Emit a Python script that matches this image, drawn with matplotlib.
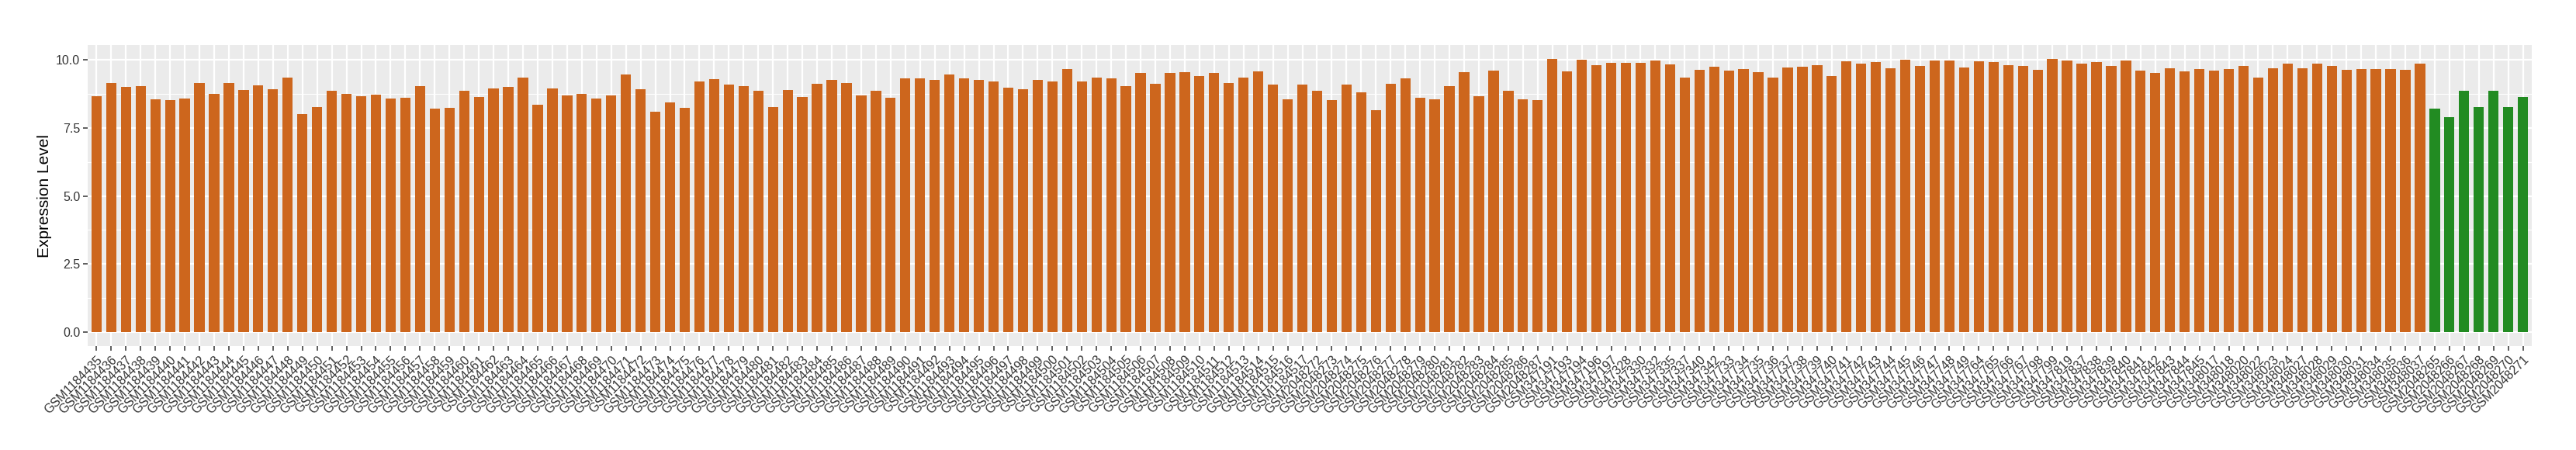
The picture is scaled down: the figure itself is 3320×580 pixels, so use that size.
import matplotlib
matplotlib.use("Agg")
import matplotlib.pyplot as plt
import numpy as np

plt.rcParams["font.family"] = ["Liberation Sans", "DejaVu Sans"]

# sample ids, in plotting order
ids_gsm1184 = [f"GSM{n}" for n in range(1184435, 1184518)]
ids_gsm2048_a = [f"GSM{n}" for n in range(2048272, 2048288)]
ids_gsm347 = [
    "GSM347191", "GSM347193", "GSM347194", "GSM347196", "GSM347197",
    "GSM347328", "GSM347330", "GSM347332", "GSM347335", "GSM347337",
    "GSM347340", "GSM347342", "GSM347733", "GSM347734", "GSM347735",
    "GSM347736", "GSM347737", "GSM347738", "GSM347739", "GSM347740",
    "GSM347741", "GSM347742", "GSM347743", "GSM347744", "GSM347745",
    "GSM347746", "GSM347747", "GSM347748", "GSM347749", "GSM347764",
    "GSM347765", "GSM347766", "GSM347767", "GSM347798", "GSM347799",
    "GSM347819", "GSM347837", "GSM347838", "GSM347839", "GSM347840",
    "GSM347841", "GSM347842", "GSM347843", "GSM347844", "GSM347845",
    "GSM348017", "GSM348018", "GSM348020", "GSM348022", "GSM348023",
    "GSM348024", "GSM348027", "GSM348028", "GSM348029", "GSM348030",
    "GSM348031", "GSM348034", "GSM348035", "GSM348036", "GSM348037",
]
ids_gsm2048_b = [f"GSM{n}" for n in range(2048265, 2048272)]

vals_gsm1184 = [
    8.66, 9.15, 9.01, 9.03, 8.55, 8.52, 8.58, 9.15, 8.75, 9.15, 8.89, 9.06, 8.92, 9.35,
    7.99, 8.27, 8.84, 8.75, 8.66, 8.72, 8.58, 8.61, 9.03, 8.21, 8.24, 8.84, 8.64, 8.95,
    9.01, 9.35, 8.35, 8.95, 8.69, 8.75, 8.58, 8.69, 9.46, 8.92, 8.10, 8.44, 8.24,
    9.20, 9.29, 9.09, 9.03, 8.86, 8.27, 8.89, 8.64, 9.12, 9.26, 9.15, 8.69, 8.84, 8.61,
    9.32, 9.32, 9.26, 9.46, 9.32, 9.26, 9.20, 8.98, 8.92, 9.26, 9.20, 9.66, 9.20, 9.35,
    9.32, 9.03, 9.52, 9.12, 9.52, 9.55, 9.40, 9.52, 9.15, 9.35, 9.57, 9.09, 8.55, 9.09,
]
vals_gsm2048_a = [
    8.84, 8.52, 9.09, 8.81, 8.15, 9.12, 9.32, 8.61, 8.55, 9.03, 9.55, 8.66, 9.60, 8.86,
    8.55, 8.52,
]
vals_gsm347 = [
    10.03, 9.57, 10.00, 9.80, 9.89, 9.89, 9.89, 9.97, 9.83, 9.35, 9.63, 9.74, 9.60, 9.66,
    9.55, 9.35, 9.72, 9.74, 9.80, 9.38, 9.94, 9.86, 9.91, 9.69, 10.00,
    9.77, 9.97, 9.97, 9.72, 9.94, 9.91, 9.80, 9.77, 9.63, 10.03, 9.97, 9.86, 9.91, 9.77,
    9.97, 9.60, 9.52, 9.69, 9.57, 9.66,
    9.60, 9.66, 9.77, 9.35, 9.69, 9.86, 9.69, 9.86, 9.77, 9.63, 9.66, 9.66, 9.66, 9.63,
    9.86,
]
vals_gsm2048_b = [8.21, 7.90, 8.86, 8.27, 8.86, 8.27, 8.64]

orange = "#CD661D"
green = "#228B22"

labels = ids_gsm1184 + ids_gsm2048_a + ids_gsm347 + ids_gsm2048_b
values = vals_gsm1184 + vals_gsm2048_a + vals_gsm347 + vals_gsm2048_b
n_orange = len(ids_gsm1184) + len(ids_gsm2048_a) + len(ids_gsm347)
colors = [orange] * n_orange + [green] * len(ids_gsm2048_b)

fig = plt.figure(figsize=(33.2, 5.8), dpi=100)
fig.subplots_adjust(left=113 / 3320, right=3263 / 3320, top=1 - 58 / 580, bottom=1 - 446 / 580)
ax = fig.add_subplot(111)

x = np.arange(len(labels))
ax.set_facecolor("#EBEBEB")
ax.bar(x, values, width=0.7, color=colors, zorder=3)

ymax = max(values)
ax.set_ylim(-0.05 * ymax, ymax * 1.05)
ax.set_xlim(-0.6, len(labels) - 0.4)

ax.set_yticks([0, 2.5, 5.0, 7.5, 10.0])
ax.set_yticklabels(["0.0", "2.5", "5.0", "7.5", "10.0"])
ax.set_yticks([1.25, 3.75, 6.25, 8.75], minor=True)
ax.set_xticks(x)
ax.set_xticklabels(labels, rotation=45, ha="right", va="top", rotation_mode="anchor")

ax.grid(which="major", color="white", linewidth=1.6, zorder=1)
ax.grid(which="minor", axis="y", color="white", linewidth=0.8, zorder=1)
ax.tick_params(axis="both", which="major", color="#333333", length=4, width=1.1,
               labelsize=11.5, labelcolor="#333333", pad=3)
ax.tick_params(axis="y", which="minor", length=0)
for s in ax.spines.values():
    s.set_visible(False)

ax.set_ylabel("Expression Level", fontsize=15, labelpad=4)

fig.savefig("out.png", dpi=100)
